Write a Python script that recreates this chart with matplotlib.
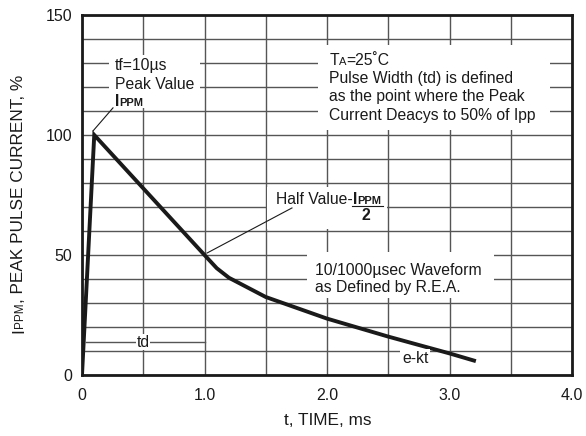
import numpy as np
import matplotlib
matplotlib.use('Agg')
import matplotlib.pyplot as plt
import matplotlib.transforms as mtransforms
from matplotlib.patches import Rectangle

plt.rcParams['font.family'] = ['Liberation Sans', 'DejaVu Sans']

# Pulse waveform
t_ms = [0.0, 0.1, 1.0, 1.1, 1.2, 1.5, 1.75, 2.0, 2.5, 3.0, 3.2]
ipp_pct = [0, 100, 50, 44.5, 40.5, 32.5, 28, 23.5, 16, 9, 6]

x_ticks = [0, 1, 2, 3, 4]
x_ticklabels = ['0', '1.0', '2.0', '3.0', '4.0']
y_ticks = [0, 50, 100, 150]
y_ticklabels = ['0', '50', '100', '150']

ink = '#1a1a1a'
grid_col = '#555555'
fs_tick = 11.5
fs_label = 12.4
fs_note = 11.3
fs_small = 8

fig = plt.figure(figsize=(5.86, 4.36), dpi=100)
ax = fig.add_axes([82/586, 61/436, 490/586, 360/436])
ax.set_xlim(0, 4)
ax.set_ylim(0, 150)

ax.set_xticks(x_ticks)
ax.set_xticklabels(x_ticklabels)
ax.set_yticks(y_ticks)
ax.set_yticklabels(y_ticklabels)
ax.set_xticks(np.arange(0, 4.01, 0.5), minor=True)
ax.set_yticks(np.arange(0, 150.1, 10), minor=True)
ax.tick_params(which='both', length=0, labelsize=fs_tick, colors=ink)
ax.tick_params(axis='x', pad=9)
ax.tick_params(axis='y', pad=7)
ax.set_axisbelow(True)
ax.grid(True, which='both', color=grid_col, linewidth=1.0)
for sp in ax.spines.values():
    sp.set_linewidth(2.0)
    sp.set_color(ink)

ax.plot(t_ms, ipp_pct, color=ink, linewidth=2.8, solid_joinstyle='miter', zorder=4)

# white boxes behind the notes (hide the grid)
boxes = [(0.22, 111.3, 0.74, 22.0),
         (1.93, 102.0, 1.89, 35.5),
         (1.51, 60.8, 0.98, 17.5),
         (1.84, 32.0, 1.52, 19.3)]
for bx, by, bw, bh in boxes:
    ax.add_patch(Rectangle((bx, by), bw, bh, facecolor='white',
                           edgecolor='none', zorder=1))

renderer = fig.canvas.get_renderer()


def put_runs(target, x, y, runs, transform, rotation=0):
    shift = 0.0
    for s, size, weight in runs:
        if rotation == 90:
            tr = mtransforms.offset_copy(transform, fig=fig, x=0, y=shift, units='dots')
        else:
            tr = mtransforms.offset_copy(transform, fig=fig, x=shift, y=0, units='dots')
        txt = target.text(x, y, s, fontsize=size, fontweight=weight, color=ink,
                          ha='left', va='baseline', rotation=rotation,
                          rotation_mode='anchor', transform=tr, zorder=5)
        bb = txt.get_window_extent(renderer)
        shift += bb.height if rotation == 90 else bb.width


# tf / peak value note
put_runs(ax, 0.27, 127.0, [('tf=10µs', fs_note, 'normal')], ax.transData)
put_runs(ax, 0.27, 119.2, [('Peak Value', fs_note, 'normal')], ax.transData)
put_runs(ax, 0.27, 112.1, [('I', fs_note, 'bold'), ('PPM', fs_small, 'bold')], ax.transData)
ax.plot([0.253, 0.09], [111.3, 101.7], color=ink, linewidth=0.8, zorder=5)

# TA note
put_runs(ax, 2.02, 129.2, [('T', fs_note, 'normal'), ('A', fs_small, 'normal'),
                           ('=25˚C', fs_note, 'normal')], ax.transData)
put_runs(ax, 2.02, 121.7, [('Pulse Width (td) is defined', fs_note, 'normal')], ax.transData)
put_runs(ax, 2.02, 114.2, [('as the point where the Peak', fs_note, 'normal')], ax.transData)
put_runs(ax, 2.02, 106.4, [('Current Deacys to 50% of Ipp', fs_note, 'normal')], ax.transData)

# half value note
put_runs(ax, 1.584, 71.25, [('Half Value-', fs_note, 'normal'), ('I', fs_note, 'bold'),
                            ('PPM', fs_small, 'bold')], ax.transData)
ax.plot([2.20, 2.46], [70.3, 70.3], color=ink, linewidth=0.8, zorder=5)
ax.text(2.314, 64.6, '2', fontsize=fs_note, fontweight='bold', color=ink,
        ha='center', va='baseline', zorder=5)
ax.plot([1.714, 1.02], [69.6, 50.8], color=ink, linewidth=0.8, zorder=5)

# waveform note
put_runs(ax, 1.90, 41.7, [('10/1000µsec Waveform', fs_note, 'normal')], ax.transData)
put_runs(ax, 1.90, 34.6, [('as Defined by R.E.A.', fs_note, 'normal')], ax.transData)

# td marker
ax.plot([0.03, 1.0], [13.75, 13.75], color=grid_col, linewidth=1.0, zorder=2)
ax.text(0.5, 13.75, 'td', fontsize=fs_note, color=ink, ha='center', va='center',
        zorder=5, bbox=dict(facecolor='white', edgecolor='none', pad=0.5))

ax.text(2.72, 6.7, 'e-kt', fontsize=fs_note, color=ink, ha='center', va='center',
        zorder=5, bbox=dict(facecolor='white', edgecolor='none', pad=1.5))

# axis labels
fig.text(328/586, 1 - 425/436, 't, TIME, ms', fontsize=fs_label, color=ink,
         ha='center', va='baseline')
put_runs(fig, 23/586, 1 - 333/436, [('I', fs_label, 'normal'), ('PPM', 8.5, 'normal'),
                                     (', PEAK PULSE CURRENT, %', fs_label, 'normal')],
         fig.transFigure, rotation=90)

fig.savefig('out.png', dpi=100)
